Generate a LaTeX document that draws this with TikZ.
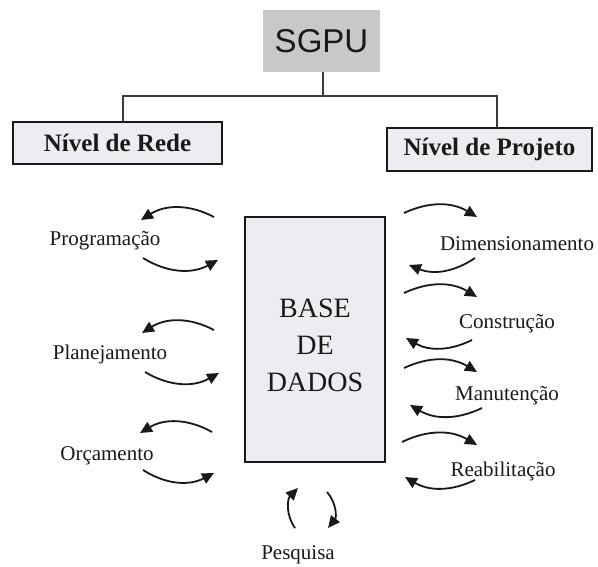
\documentclass[tikz,border=0pt]{standalone}
\usepackage{fontspec}
\setmainfont{Liberation Serif}
\newfontfamily\sgpufont{Liberation Sans}
\usetikzlibrary{arrows.meta}
\definecolor{boxgray}{RGB}{200,200,200}
\definecolor{paper}{RGB}{236,236,241}
\definecolor{ink}{RGB}{25,25,25}

\begin{document}
\begin{tikzpicture}[x=1pt,y=-1pt,
  nivel/.style={draw=ink,line width=1.3pt,fill=paper,inner sep=0pt,text=ink,
    font=\fontsize{25}{30}\selectfont\bfseries},
  rotulo/.style={text=ink,inner sep=0pt,font=\fontsize{21}{25}\selectfont},
  seta/.style={ink,line width=1.8pt,-{Triangle[length=12pt,width=11pt]}},
  tronco/.style={ink!85,line width=1.2pt}]
   \useasboundingbox (0,0) rectangle (598,566);
   \node (sgpu) at (321.5,41) [fill=boxgray,minimum width=117pt,minimum height=62pt,
     text=ink,font=\sgpufont\fontsize{33}{40}\selectfont] {SGPU};
   \node (rede) at (117.5,143) [nivel,minimum width=209pt,minimum height=42pt] {Nível de Rede};
   \node (projeto) at (489.5,149.5) [nivel,minimum width=205pt,minimum height=43pt] {Nível de Projeto};
   \coordinate (joint) at (323,96);
   \draw[tronco] (sgpu.south -| joint) -- (joint);
   \draw[tronco] ([xshift=5.5pt]rede.north) |- (joint) -| ([xshift=7.5pt]projeto.north);

   \node (base) at (315,339.5) [draw=ink,line width=1.3pt,fill=paper,
     minimum width=140pt,minimum height=245pt] {};
   \node (basetxt) at (315,345) [align=center,text=ink,
     font=\fontsize{28}{37}\selectfont] {BASE\\DE\\DADOS};

   \node (prog) at (105,241) [rotulo] {Programação};
   \node (plan) at (110,354) [rotulo] {Planejamento};
   \node (orca) at (107,456) [rotulo] {Orçamento};
   \node (dim) at (517,244) [rotulo] {Dimensionamento};
   \node (cons) at (507,324) [rotulo] {Construção};
   \node (manu) at (507,396) [rotulo] {Manutenção};
   \node (reab) at (503,471) [rotulo] {Reabilitação};
   \node (pesq) at (298,555) [rotulo] {Pesquisa};

   \foreach \n/\xa/\ya/\xb/\yb/\bd in {
       prog-a/214/217/141/220/-30, prog-b/143/258/218/260/-30,
       plan-a/214/330/142/333/-30, plan-b/145/372/219/373/-30,
       orca-a/212/432/140/433/-30, orca-b/143/470/214/473/-30,
       dim-a/404/213/477/217/28,   dim-b/475/258/409/265/28,
       cons-a/404/293/477/297/28,  cons-b/472/340/406/338/28,
       manu-a/404/368/477/372/28,  manu-b/482/408/410/405/28,
       reab-a/402/442/477/445/28,  reab-b/475/480/405/477/28,
       pesq-a/295/528/298/488/40,  pesq-b/327/492/328/528/40}{
     \coordinate (\n-s) at (\xa,\ya);
     \coordinate (\n-e) at (\xb,\yb);
     \draw[seta] (\n-s) to[bend left=\bd] (\n-e);
   }
\end{tikzpicture}
\end{document}
